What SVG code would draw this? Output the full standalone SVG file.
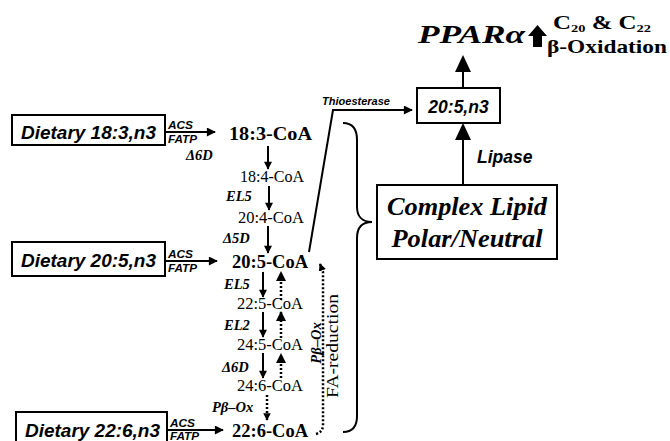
<svg xmlns="http://www.w3.org/2000/svg" width="670" height="441" viewBox="0 0 670 441">
<style>
.box{fill:#fff;stroke:#000;stroke-width:2}
.diet{font-family:"Liberation Sans",Arial,sans-serif;font-weight:bold;font-style:italic;font-size:17.5px}
.enz{font-family:"Liberation Sans",Arial,sans-serif;font-weight:bold;font-style:italic;font-size:11.5px}
.coaB{font-family:"Liberation Serif","Times New Roman",serif;font-weight:bold;font-size:18px}
.coa{font-family:"Liberation Serif","Times New Roman",serif;font-size:16px}
.lab{font-family:"Liberation Serif","Times New Roman",serif;font-weight:bold;font-style:italic;font-size:14.5px}
.big{font-family:"Liberation Serif","Times New Roman",serif;font-weight:bold;font-style:italic;font-size:26px}
.bs{font-family:"Liberation Serif","Times New Roman",serif;font-weight:bold;font-size:19px}
.ln{fill:none;stroke:#000;stroke-width:2}
.dot{fill:none;stroke:#000;stroke-width:2.5;stroke-dasharray:2 2}
</style>
<defs>
<marker id="ah" viewBox="0 0 10 10" refX="9" refY="5" markerWidth="5" markerHeight="4.5" orient="auto" markerUnits="strokeWidth">
<path d="M0,0 L10,5 L0,10 z" fill="#000"/>
</marker>
<marker id="ahv" viewBox="0 0 10 10" refX="9" refY="5" markerWidth="4.4" markerHeight="4" orient="auto" markerUnits="strokeWidth">
<path d="M0,0 L10,5 L0,10 z" fill="#000"/>
</marker>
<marker id="ahs" viewBox="0 0 10 10" refX="9" refY="5" markerWidth="3" markerHeight="3" orient="auto" markerUnits="strokeWidth">
<path d="M0,0 L10,5 L0,10 z" fill="#000"/>
</marker>
</defs>

<g id="connectors">
<line class="ln" x1="165" y1="132" x2="215" y2="132" marker-end="url(#ah)"/>
<line class="ln" x1="165" y1="261" x2="217" y2="261" marker-end="url(#ah)"/>
<line class="ln" x1="167" y1="430" x2="223" y2="430" marker-end="url(#ah)"/>
<line class="ln" x1="268" y1="146" x2="268" y2="169" stroke-width="2.5" marker-end="url(#ahv)"/>
<line class="ln" x1="269" y1="186" x2="269" y2="210" stroke-width="2.5" marker-end="url(#ahv)"/>
<line class="ln" x1="268" y1="226" x2="268" y2="253" stroke-width="2.5" marker-end="url(#ahv)"/>
<line class="ln" x1="263" y1="272" x2="263" y2="297" stroke-width="2.5" marker-end="url(#ahv)"/>
<line class="ln" x1="263" y1="312" x2="263" y2="337" stroke-width="2.5" marker-end="url(#ahv)"/>
<line class="ln" x1="263" y1="353" x2="263" y2="378" stroke-width="2.5" marker-end="url(#ahv)"/>
<line class="dot" x1="281" y1="300" x2="281" y2="272" marker-end="url(#ahv)"/>
<line class="dot" x1="281" y1="338" x2="281" y2="312" marker-end="url(#ahv)"/>
<line class="dot" x1="281" y1="378" x2="281" y2="354" marker-end="url(#ahv)"/>
<line class="dot" x1="267" y1="395" x2="267" y2="420" marker-end="url(#ahs)"/>
<path class="dot" d="M316,434 Q323,432 323,425 L323,272 L320,264" marker-end="url(#ahs)"/>
<path class="ln" d="M309,252 L333,110 L412,110" marker-end="url(#ah)"/>
<path class="ln" d="M343,123 C352,123 357,128 357,140 L357,207 C357,216 362,222 372,222 C362,222 357,228 357,238 L357,416 C357,427 352,432 343,432"/>
<line class="ln" x1="463" y1="185" x2="463" y2="138" stroke-width="5"/>
<polygon points="455,140 471,140 463,123" fill="#000"/>
<line class="ln" x1="463" y1="88" x2="463" y2="70" stroke-width="5"/>
<polygon points="455,72 471,72 463,55" fill="#000"/>
<polygon points="537.5,25 547,36 542,36 542,47 533,47 533,36 528,36" fill="#000"/>
</g>

<g id="diet183">
<rect class="box" x="12" y="115" width="153" height="30"/>
<text class="diet" x="21" y="139" textLength="135" lengthAdjust="spacingAndGlyphs">Dietary 18:3,n3</text>
</g>
<g id="diet205">
<rect class="box" x="12" y="242" width="153" height="34"/>
<text class="diet" x="21" y="267" textLength="135" lengthAdjust="spacingAndGlyphs">Dietary 20:5,n3</text>
</g>
<g id="diet226">
<rect class="box" x="16" y="412" width="151" height="40"/>
<text class="diet" x="25" y="437" textLength="135" lengthAdjust="spacingAndGlyphs">Dietary 22:6,n3</text>
</g>

<g id="enzymes">
<text class="enz" x="168" y="129" textLength="25" lengthAdjust="spacingAndGlyphs">ACS</text>
<text class="enz" x="168" y="143" textLength="29" lengthAdjust="spacingAndGlyphs">FATP</text>
<text class="enz" x="168" y="258" textLength="25" lengthAdjust="spacingAndGlyphs">ACS</text>
<text class="enz" x="168" y="272" textLength="29" lengthAdjust="spacingAndGlyphs">FATP</text>
<text class="enz" x="170" y="427" textLength="25" lengthAdjust="spacingAndGlyphs">ACS</text>
<text class="enz" x="170" y="440" textLength="29" lengthAdjust="spacingAndGlyphs">FATP</text>
<text class="lab" x="186" y="160">Δ6D</text>
<text class="lab" x="226" y="201">EL5</text>
<text class="lab" x="223" y="243">Δ5D</text>
<text class="lab" x="224" y="289">EL5</text>
<text class="lab" x="224" y="330">EL2</text>
<text class="lab" x="222" y="372">Δ6D</text>
<text class="lab" x="212" y="412">Pβ–Ox</text>
<text class="lab" transform="translate(321,343) rotate(-90)" text-anchor="middle">Pβ–Ox</text>
<text class="coa" transform="translate(338,346) rotate(-90)" text-anchor="middle" textLength="104" lengthAdjust="spacingAndGlyphs">FA-reduction</text>
<text class="enz" x="322" y="105" textLength="68" lengthAdjust="spacingAndGlyphs">Thioesterase</text>
</g>

<g id="coa">
<text class="coaB" x="229" y="140" textLength="83" lengthAdjust="spacingAndGlyphs">18:3-CoA</text>
<text class="coa" x="240" y="182" textLength="64" lengthAdjust="spacingAndGlyphs">18:4-CoA</text>
<text class="coa" x="238" y="223" textLength="66" lengthAdjust="spacingAndGlyphs">20:4-CoA</text>
<text class="coaB" x="232" y="268" textLength="76" lengthAdjust="spacingAndGlyphs">20:5-CoA</text>
<text class="coa" x="237" y="309" textLength="66" lengthAdjust="spacingAndGlyphs">22:5-CoA</text>
<text class="coa" x="237" y="350" textLength="66" lengthAdjust="spacingAndGlyphs">24:5-CoA</text>
<text class="coa" x="237" y="391" textLength="66" lengthAdjust="spacingAndGlyphs">24:6-CoA</text>
<text class="coaB" x="232" y="437" textLength="76" lengthAdjust="spacingAndGlyphs">22:6-CoA</text>
</g>

<g id="epa">
<rect class="box" x="417" y="88" width="83" height="35"/>
<text class="diet" x="458.5" y="113" text-anchor="middle" font-size="17px">20:5,n3</text>
</g>
<g id="lipase">
<text class="diet" x="477" y="163" font-size="15px">Lipase</text>
</g>
<g id="complex">
<rect class="box" x="377" y="185" width="180" height="74"/>
<text class="big" x="467" y="215" text-anchor="middle" textLength="160" lengthAdjust="spacingAndGlyphs">Complex Lipid</text>
<text class="big" x="467" y="247" text-anchor="middle" textLength="151" lengthAdjust="spacingAndGlyphs">Polar/Neutral</text>
</g>
<g id="ppar">
<text class="big" x="418" y="43" textLength="107" lengthAdjust="spacingAndGlyphs">PPARα</text>
<text class="bs" x="553" y="29" font-size="18px" textLength="98" lengthAdjust="spacingAndGlyphs">C<tspan dy="3" font-size="11px">20</tspan><tspan dy="-3"> &amp; C</tspan><tspan dy="3" font-size="11px">22</tspan></text>
<text class="bs" x="547" y="53" font-size="18px" textLength="120" lengthAdjust="spacingAndGlyphs">β-Oxidation</text>
</g>
</svg>
